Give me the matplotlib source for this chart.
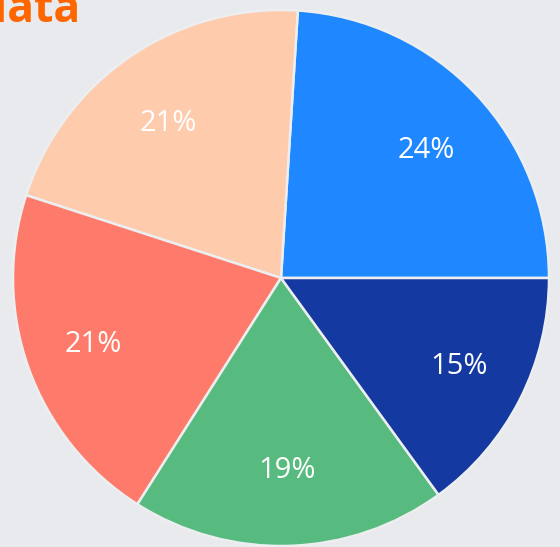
import numpy as np
import matplotlib.pyplot as plt

# slice shares (%), counter-clockwise from 3 o'clock
shares = [24, 21, 21, 19, 15]
labels = ['24%', '21%', '21%', '19%', '15%']
colors = ['#1f87ff', '#fecbad', '#fe7b6c', '#57bb7f', '#1439a0']

W, H, DPI = 560, 547, 100
fig = plt.figure(figsize=(W / DPI, H / DPI), dpi=DPI)
fig.patch.set_facecolor('#e8eaed')

# pie centre at (281, 278) px from top-left, radius 268 px
cx, cy, r = 281, H - 278, 268
ax = fig.add_axes([(cx - r) / W, (cy - r) / H, 2 * r / W, 2 * r / H])
ax.set_facecolor('#e8eaed')

wedges, _ = ax.pie(
    shares, colors=colors, startangle=0, counterclock=True, radius=1,
    wedgeprops=dict(edgecolor='#eceef0', linewidth=1.8),
)

# labels inside the slices, on a slightly flattened ring (as in the reference)
ends = np.cumsum(shares) / sum(shares) * 360
mids = np.deg2rad(ends - np.array(shares) / sum(shares) * 180)
half_digit = 10 / r
for ang, lab in zip(mids, labels):
    ax.text(0.746 * np.cos(ang), 0.709 * np.sin(ang) - half_digit, lab,
            ha='center', va='baseline', color='white', fontsize=21,
            family='Open Sans')

ax.set_xlim(-1, 1)
ax.set_ylim(-1, 1)
ax.set_aspect('equal')
ax.axis('off')

# title, mostly cut off at top-left like the reference
fig.text(80 / W, (H - 22) / H, 'data', ha='right', va='baseline',
         fontsize=32, fontweight='bold', family='Open Sans', color='#ff6600')

fig.savefig('out.png', dpi=DPI, facecolor=fig.get_facecolor())
